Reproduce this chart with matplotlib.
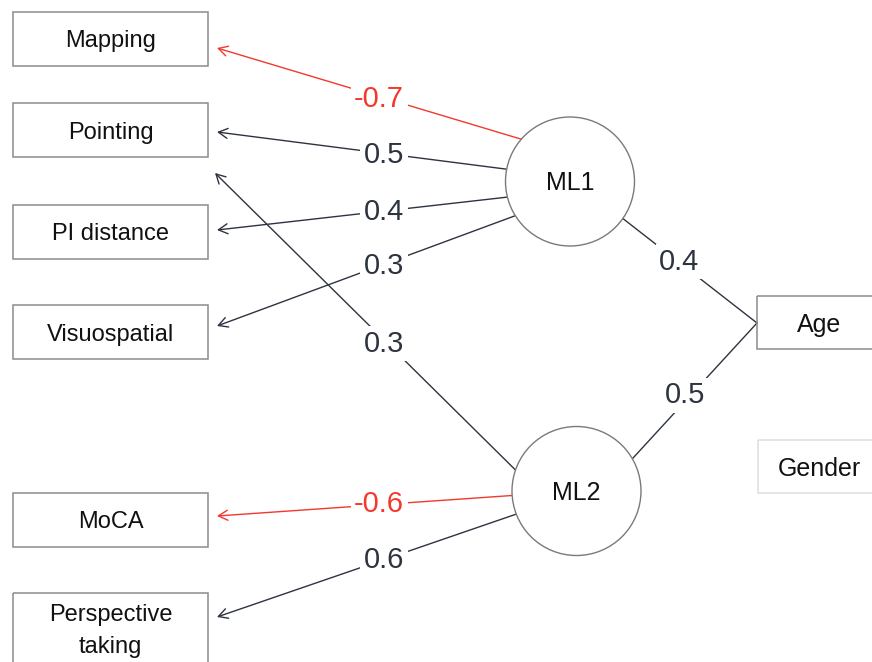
import matplotlib.pyplot as plt
import numpy as np
from matplotlib.patches import Circle, FancyArrowPatch, Rectangle

# --- data -------------------------------------------------------------------
indicators = ['Mapping', 'Pointing', 'PI distance', 'Visuospatial', 'MoCA',
              'Perspective\ntaking']
factors = ['ML1', 'ML2']
covariates = ['Age', 'Gender']

load_factor = ['ML1', 'ML1', 'ML1', 'ML1', 'ML2', 'ML2', 'ML2']
load_indicator = ['Mapping', 'Pointing', 'PI distance', 'Visuospatial',
                  'Pointing', 'MoCA', 'Perspective\ntaking']
load_value = [-0.7, 0.5, 0.4, 0.3, 0.3, -0.6, 0.6]

age_factor = ['ML1', 'ML2']
age_value = [0.4, 0.5]

# --- layout (pixels, y down) ------------------------------------------------
box_left, box_right, box_h = 13, 208, 54
box_top = {'Mapping': 12, 'Pointing': 103, 'PI distance': 205,
           'Visuospatial': 305, 'MoCA': 493, 'Perspective\ntaking': 593}
node_xy = {'ML1': (570, 181.5), 'ML2': (576.5, 491)}
node_r = 64.5
cov_left, cov_top = {'Age': 757, 'Gender': 758}, {'Age': 296, 'Gender': 440}
# where each loading leaves the circle (deg, math convention) and arrow tip
start_deg = [139, 169, 194, 212, 161, 184, 201]
tip_xy = [(217, 48), (217, 132), (217, 230), (217, 326),
          (215, 173), (217, 516), (217, 617)]
label_dy = [0, 0, -2, -2, 5, -3, -3]
age_deg = [325, 30]
age_tip = (757, 323)
age_dy = [-3, -9]
label_right, label_cx = 404, 380

dark = '#2d3440'
red = '#f2392c'
fs_num = 21
fs_box = 17

fig = plt.figure(figsize=(8.72, 6.62), dpi=100)
ax = fig.add_axes([0, 0, 1, 1])
ax.set_xlim(0, 872)
ax.set_ylim(662, 0)
ax.axis('off')
plt.rcParams['font.family'] = ['Liberation Sans', 'DejaVu Sans']


def cap_text(x, y, s, fs, **kw):
    # place text so that the capital letters are centred on y
    half_cap = fs * 100 / 72 * 0.72 / 2
    return ax.text(x, y + half_cap, s, va='baseline', fontsize=fs, **kw)


# indicator boxes
for name in indicators:
    top = box_top[name]
    cx = (box_left + box_right) / 2
    if '\n' in name:
        ax.add_patch(Rectangle((box_left, top), box_right - box_left, 80,
                               fill=False, ec='#8c8c8c', lw=1.1, zorder=2))
        for i, part in enumerate(name.split('\n')):
            cap_text(cx, top + 20 + 31 * i, part, fs_box, ha='center',
                     color='#111')
    else:
        ax.add_patch(Rectangle((box_left, top), box_right - box_left, box_h,
                               fill=False, ec='#8c8c8c', lw=1.1, zorder=2))
        cap_text(cx, top + box_h / 2, name, fs_box, ha='center', color='#111')

# covariate boxes
for name in covariates:
    ec = '#8c8c8c' if name == 'Age' else '#dedede'
    ax.add_patch(Rectangle((cov_left[name], cov_top[name]), 130, 53,
                           fill=False, ec=ec, lw=1.1, zorder=2))
    cap_text(819.5, cov_top[name] + 27, name, fs_box + 1, ha='center',
             color='#111')

# latent factor circles
for name in factors:
    ax.add_patch(Circle(node_xy[name], node_r, fc='white', ec='#7a7a7a',
                        lw=1.0, zorder=3))
    cap_text(node_xy[name][0], node_xy[name][1], name, fs_box + 1,
             ha='center', color='#111', zorder=4)


def edge_start(factor, deg):
    cx, cy = node_xy[factor]
    a = np.radians(deg)
    return cx + node_r * np.cos(a), cy - node_r * np.sin(a)


box_style = dict(boxstyle='square,pad=0.12', fc='white', ec='none')

# loadings
for f, ind, val, deg, tip, dy in zip(load_factor, load_indicator, load_value,
                                     start_deg, tip_xy, label_dy):
    col = red if val < 0 else dark
    x0, y0 = edge_start(f, deg)
    ax.add_patch(FancyArrowPatch((x0, y0), tip,
                                 arrowstyle='->,head_length=0.55,head_width=0.3',
                                 mutation_scale=12, color=col, lw=1.0,
                                 shrinkA=0, shrinkB=0, zorder=1))
    t = (x0 - label_cx) / (x0 - tip[0])
    ly = y0 + t * (tip[1] - y0) + dy
    cap_text(label_right, ly, f'{val:.1f}', fs_num, ha='right', color=col,
             zorder=2, bbox=box_style)

# age paths
for f, val, deg, dy in zip(age_factor, age_value, age_deg, age_dy):
    x0, y0 = edge_start(f, deg)
    ax.plot([x0, age_tip[0]], [y0, age_tip[1]], color=dark, lw=1.0, zorder=1)
    t = 0.42
    lx, ly = x0 + t * (age_tip[0] - x0), y0 + t * (age_tip[1] - y0)
    cap_text(lx, ly + dy, f'{val:.1f}', fs_num, ha='center', color=dark,
             zorder=2, bbox=box_style)

fig.savefig('out.png', dpi=100)
